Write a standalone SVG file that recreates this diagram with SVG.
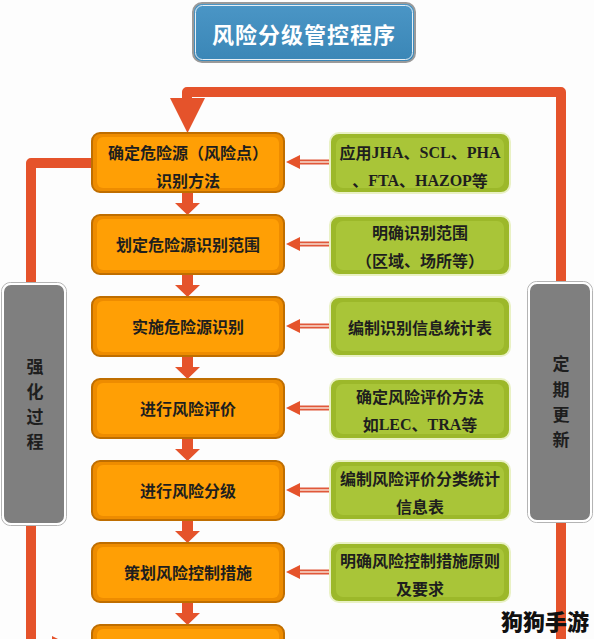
<svg xmlns="http://www.w3.org/2000/svg" width="594" height="639" viewBox="0 0 594 639">
<defs>
<style>
.t{font-family:"Noto Sans CJK SC","Noto Sans",sans-serif;font-weight:700;fill:#1e1e1e;text-anchor:middle;dominant-baseline:central}
.lat{font-family:"Liberation Serif","Noto Sans CJK SC",serif;font-weight:700}
.ob{fill:#ee8c00;stroke:#bf6e00;stroke-width:2}
.oi{fill:#ff9f05}
.gb{fill:#9cb82a;stroke:#e9f1c4;stroke-width:2}
.gi{fill:#a9c538}
.gray{fill:#7f7f7f;stroke:#ffffff;stroke-width:2}
.gray2{fill:none;stroke:#b4b4b4;stroke-width:1}
.loop{fill:none;stroke:#e5532b;stroke-width:10;stroke-linejoin:round}
.ah{fill:#e5532b}
.dl{stroke:#e0583a;stroke-width:5}
.dli{stroke:#f6d6c8;stroke-width:1.6}
</style>
<linearGradient id="tg" x1="0" y1="0" x2="0" y2="1">
<stop offset="0" stop-color="#4b96c6"/>
<stop offset="1" stop-color="#3a86b6"/>
</linearGradient>
</defs>
<rect width="594" height="639" fill="#fdfdfd"/>

<g id="connectors">
<path class="loop" d="M92,163 H31 V700"/>
<path class="loop" d="M561,700 V92 H187 V102"/>
<polygon class="ah" points="170,98 205,98 187.5,133"/>
<polygon class="ah" points="52,636 52,656 72,646"/>
<g id="down-arrows">
<path class="ah" d="M182,192 H193 V203 H200 L187.5,215 L175,203 H182 Z"/>
<path class="ah" d="M182,274 H193 V285 H200 L187.5,297 L175,285 H182 Z"/>
<path class="ah" d="M182,356 H193 V367 H200 L187.5,379 L175,367 H182 Z"/>
<path class="ah" d="M182,438 H193 V449 H200 L187.5,461 L175,449 H182 Z"/>
<path class="ah" d="M182,520 H193 V531 H200 L187.5,543 L175,531 H182 Z"/>
<path class="ah" d="M182,602 H193 V613 H200 L187.5,625 L175,613 H182 Z"/>
</g>
<g id="side-arrows">
<line class="dl" x1="297" y1="162" x2="331" y2="162"/><line class="dli" x1="299" y1="162" x2="331" y2="162"/><polygon class="ah" points="286,162 300,155 300,169"/>
<line class="dl" x1="297" y1="244" x2="331" y2="244"/><line class="dli" x1="299" y1="244" x2="331" y2="244"/><polygon class="ah" points="286,244 300,237 300,251"/>
<line class="dl" x1="297" y1="326" x2="331" y2="326"/><line class="dli" x1="299" y1="326" x2="331" y2="326"/><polygon class="ah" points="286,326 300,319 300,333"/>
<line class="dl" x1="297" y1="408" x2="331" y2="408"/><line class="dli" x1="299" y1="408" x2="331" y2="408"/><polygon class="ah" points="286,408 300,401 300,415"/>
<line class="dl" x1="297" y1="490" x2="331" y2="490"/><line class="dli" x1="299" y1="490" x2="331" y2="490"/><polygon class="ah" points="286,490 300,483 300,497"/>
<line class="dl" x1="297" y1="572" x2="331" y2="572"/><line class="dli" x1="299" y1="572" x2="331" y2="572"/><polygon class="ah" points="286,572 300,565 300,579"/>
</g>
</g>

<g id="title">
<rect x="193" y="3" width="222" height="59" rx="9" fill="url(#tg)" stroke="#9a9a9a" stroke-width="2"/>
<rect x="195.5" y="5.5" width="217" height="54" rx="7" fill="none" stroke="#e6eef4" stroke-width="1"/>
<text class="t" x="304" y="33" font-size="22" letter-spacing="1" style="fill:#ffffff">风险分级管控程序</text>
</g>

<g id="o1"><rect class="ob" x="92" y="133" width="192" height="59" rx="8"/><rect class="oi" x="97" y="137" width="182" height="51" rx="6"/>
<text class="t" x="188" y="152" font-size="16">确定危险源（风险点）</text><text class="t" x="188" y="180" font-size="16">识别方法</text></g>
<g id="o2"><rect class="ob" x="92" y="215" width="192" height="59" rx="8"/><rect class="oi" x="97" y="219" width="182" height="51" rx="6"/>
<text class="t" x="188" y="244" font-size="16">划定危险源识别范围</text></g>
<g id="o3"><rect class="ob" x="92" y="297" width="192" height="59" rx="8"/><rect class="oi" x="97" y="301" width="182" height="51" rx="6"/>
<text class="t" x="188" y="326" font-size="16">实施危险源识别</text></g>
<g id="o4"><rect class="ob" x="92" y="379" width="192" height="59" rx="8"/><rect class="oi" x="97" y="383" width="182" height="51" rx="6"/>
<text class="t" x="188" y="408" font-size="16">进行风险评价</text></g>
<g id="o5"><rect class="ob" x="92" y="461" width="192" height="59" rx="8"/><rect class="oi" x="97" y="465" width="182" height="51" rx="6"/>
<text class="t" x="188" y="490" font-size="16">进行风险分级</text></g>
<g id="o6"><rect class="ob" x="92" y="543" width="192" height="59" rx="8"/><rect class="oi" x="97" y="547" width="182" height="51" rx="6"/>
<text class="t" x="188" y="572" font-size="16">策划风险控制措施</text></g>
<g id="o7"><rect class="ob" x="92" y="625" width="192" height="59" rx="8"/><rect class="oi" x="97" y="629" width="182" height="51" rx="6"/></g>

<g id="g1"><rect class="gb" x="330" y="133" width="180" height="60" rx="9"/><rect class="gi" x="336" y="138" width="168" height="50" rx="7"/>
<text class="t" x="420" y="152" font-size="16">应用<tspan class="lat">JHA</tspan>、<tspan class="lat">SCL</tspan>、<tspan class="lat">PHA</tspan></text>
<text class="t" x="420" y="180" font-size="16">、<tspan class="lat">FTA</tspan>、<tspan class="lat">HAZOP</tspan>等</text></g>
<g id="g2"><rect class="gb" x="330" y="216" width="180" height="59" rx="9"/><rect class="gi" x="336" y="221" width="168" height="49" rx="7"/>
<text class="t" x="420" y="232" font-size="16">明确识别范围</text><text class="t" x="420" y="260" font-size="16">（区域、场所等）</text></g>
<g id="g3"><rect class="gb" x="330" y="297" width="180" height="59" rx="9"/><rect class="gi" x="336" y="302" width="168" height="49" rx="7"/>
<text class="t" x="420" y="327" font-size="16">编制识别信息统计表</text></g>
<g id="g4"><rect class="gb" x="330" y="379" width="180" height="60" rx="9"/><rect class="gi" x="336" y="384" width="168" height="50" rx="7"/>
<text class="t" x="420" y="396" font-size="16">确定风险评价方法</text>
<text class="t" x="420" y="424" font-size="16">如<tspan class="lat">LEC</tspan>、<tspan class="lat">TRA</tspan>等</text></g>
<g id="g5"><rect class="gb" x="330" y="461" width="180" height="59" rx="9"/><rect class="gi" x="336" y="466" width="168" height="49" rx="7"/>
<text class="t" x="420" y="478" font-size="16">编制风险评价分类统计</text><text class="t" x="420" y="506" font-size="16">信息表</text></g>
<g id="g6"><rect class="gb" x="330" y="543" width="180" height="59" rx="9"/><rect class="gi" x="336" y="548" width="168" height="49" rx="7"/>
<text class="t" x="420" y="560" font-size="16">明确风险控制措施原则</text><text class="t" x="420" y="588" font-size="16">及要求</text></g>

<g id="left-side"><rect class="gray2" x="1.5" y="282.5" width="65" height="243" rx="9"/><rect class="gray" x="3" y="284" width="62" height="240" rx="8"/>
<text class="t" x="35" y="365" font-size="17">强</text><text class="t" x="35" y="390" font-size="17">化</text><text class="t" x="35" y="415" font-size="17">过</text><text class="t" x="35" y="440" font-size="17">程</text></g>
<g id="right-side"><rect class="gray2" x="527.5" y="281.5" width="65" height="241" rx="9"/><rect class="gray" x="529" y="283" width="62" height="238" rx="8"/>
<text class="t" x="561" y="362" font-size="17">定</text><text class="t" x="561" y="388" font-size="17">期</text><text class="t" x="561" y="413" font-size="17">更</text><text class="t" x="561" y="438" font-size="17">新</text></g>

<text class="t" x="545" y="620" font-size="22" style="font-weight:900;fill:#111">狗狗手游</text>
</svg>
